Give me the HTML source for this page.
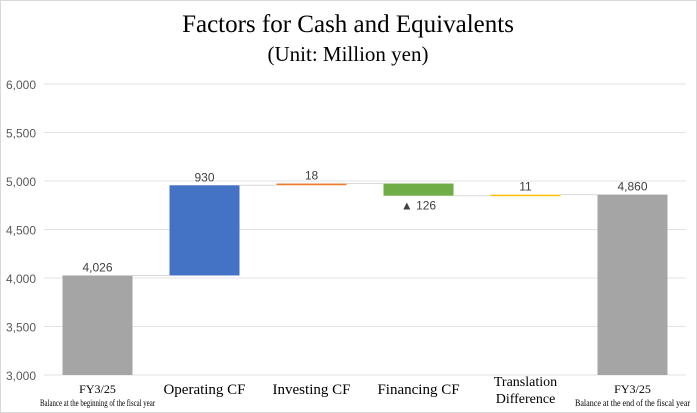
<!DOCTYPE html>
<html><head><meta charset="utf-8"><style>
body{margin:0;background:#fff}
svg{display:block;font-family:"Liberation Sans",sans-serif}
.serif{font-family:"Liberation Serif",serif}
</style></head><body>
<svg id="c" width="697" height="413" viewBox="0 0 697 413">
<rect x="0.5" y="0.5" width="696" height="412" fill="#fff" stroke="#d9d9d9"/>
<text class="serif" x="348" y="32" text-anchor="middle" font-size="25" fill="#000">Factors for Cash and Equivalents</text>
<text class="serif" x="348" y="61" text-anchor="middle" font-size="21" fill="#000">(Unit: Million yen)</text>
<g id="grid"></g><g id="bars"></g><g id="labels"></g>
</svg>
<script>
const categories=["FY3/25|Balance at the beginning of the fiscal year","Operating CF","Investing CF","Financing CF","Translation|Difference","FY3/25|Balance at the end of the fiscal year"];
const deltas=[4026,930,18,-126,11,4860];
const kinds=["total","up","up","down","up","total"];
const valueLabels=["4,026","930","18","▲ 126","11","4,860"];
const yTicks=[3000,3500,4000,4500,5000,5500,6000];
const colors={total:"#a5a5a5",op:"#4472c4",inv:"#ed7d31",fin:"#70ad47",tr:"#ffc000"};
const barColors=[colors.total,colors.op,colors.inv,colors.fin,colors.tr,colors.total];
const NS="http://www.w3.org/2000/svg";
const y0=3000,y1=6000,py0=375,py1=84,px0=44,bw=107;
function y(v){return py0-(v-y0)/(y1-y0)*(py0-py1);}
function xc(i){return px0+bw*(i+0.5);}
function mk(tag,a,parent){const e=document.createElementNS(NS,tag);for(const k in a)e.setAttribute(k,a[k]);document.getElementById(parent).appendChild(e);return e;}
yTicks.forEach(t=>{
 const l=mk("line",{x1:px0,x2:686,y1:y(t),y2:y(t),stroke:"#e3e3e3","stroke-width":1},"grid");
 
 
 const tx=mk("text",{x:36,y:y(t)+5,"text-anchor":"end","font-size":12,fill:"#595959"},"grid");
 tx.textContent=t.toLocaleString("en-US");
 
 
});
let cum=0;let prevTop=null;
deltas.forEach((d,i)=>{
 let lo,hi;
 if(kinds[i]==="total"){lo=y0;hi=d;cum=d;}
 else{const s=cum;cum+=d;lo=Math.min(s,cum);hi=Math.max(s,cum);}
 const x=xc(i)-35,w=70;
 const top=y(hi),bot=y(lo);
 if(prevTop!==null){
  const c=mk("line",{x1:xc(i-1)+35,x2:x,y1:y(prevTop),y2:y(prevTop),stroke:"#d9d9d9","stroke-width":1},"bars");
  
  
 }
 prevTop=kinds[i]==="total"?d:cum;
 const r=mk("rect",{x:x,y:top,width:w,height:Math.max(bot-top,1.5),fill:barColors[i]},"bars");
 
 
 const lbl=mk("text",{x:xc(i),y:kinds[i]==="down"?bot+14:top-4,"text-anchor":"middle","font-size":12,fill:"#404040"},"labels");
 lbl.textContent=valueLabels[i];
 
 
 const parts=categories[i].split("|");
 const g=mk("g",{},"labels");
 
 
 if(parts.length===1){
  const t=document.createElementNS(NS,"text");t.setAttribute("x",xc(i));t.setAttribute("y",394);t.setAttribute("text-anchor","middle");t.setAttribute("font-size",15);t.setAttribute("class","serif");t.textContent=parts[0];g.appendChild(t);
 }else{
  const small=parts[0].startsWith("FY");
  const t1=document.createElementNS(NS,"text");t1.setAttribute("x",xc(i));t1.setAttribute("y",small?393:386);t1.setAttribute("text-anchor","middle");t1.setAttribute("font-size",small?12:14);t1.setAttribute("class","serif");t1.textContent=parts[0];g.appendChild(t1);
  const t2=document.createElementNS(NS,"text");t2.setAttribute("x",xc(i));t2.setAttribute("y",small?406:403);t2.setAttribute("text-anchor","middle");t2.setAttribute("font-size",small?9.5:14);t2.setAttribute("class","serif");t2.textContent=parts[1];
  if(small){t2.setAttribute("textLength",bw+8);t2.setAttribute("lengthAdjust","spacingAndGlyphs");}
  g.appendChild(t2);
 }
});
</script>
</body></html>
